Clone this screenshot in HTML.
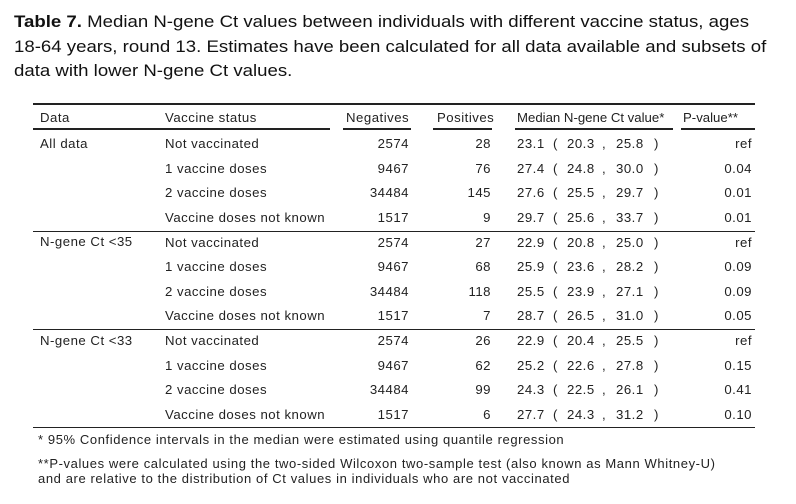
<!DOCTYPE html>
<html><head><style>
body{margin:0;width:796px;height:504px;background:#fff;position:relative;font-family:"Liberation Sans",Arial,sans-serif;color:#111;overflow:hidden}
.t{position:absolute;left:14px;top:10px;font-size:17px;line-height:24.5px;white-space:nowrap;transform:scaleX(1.095);transform-origin:0 0}
.c{position:absolute;font-size:13.2px;letter-spacing:0.5px;white-space:nowrap;color:#222}
.r{text-align:right}
.l{position:absolute;background:#222;height:1px}
.f{position:absolute;left:38px;font-size:13px;letter-spacing:0.6px;line-height:15px;color:#222;white-space:nowrap}
</style></head><body>
<div class="t"><b>Table 7.</b> Median N-gene Ct values between individuals with different vaccine status, ages<br>18-64 years, round 13. Estimates have been calculated for all data available and subsets of<br>data with lower N-gene Ct values.</div>
<div class="l" style="left:33px;width:722px;top:103px;height:2px"></div>
<div class="l" style="left:33px;width:297px;top:128px;height:2px"></div>
<div class="l" style="left:343px;width:68px;top:128px;height:2px"></div>
<div class="l" style="left:433px;width:59px;top:128px;height:2px"></div>
<div class="l" style="left:515px;width:158px;top:128px;height:2px"></div>
<div class="l" style="left:681px;width:74px;top:128px;height:2px"></div>
<div class="l" style="left:33px;width:722px;top:231px"></div>
<div class="l" style="left:33px;width:722px;top:329px"></div>
<div class="l" style="left:33px;width:722px;top:427px"></div>
<div id="rows"></div>
<div class="f" style="top:432px">* 95% Confidence intervals in the median were estimated using quantile regression</div>
<div class="f" style="top:456px">**P-values were calculated using the two-sided Wilcoxon two-sample test (also known as Mann Whitney-U)<br>and are relative to the distribution of Ct values in individuals who are not vaccinated</div>
<div class="c" style="left:40px;top:110px">Data</div>
<div class="c" style="left:165px;top:110px">Vaccine status</div>
<div class="c" style="left:346px;top:110px">Negatives</div>
<div class="c" style="left:437px;top:110px">Positives</div>
<div class="c" style="left:517px;top:110px;letter-spacing:0">Median N-gene Ct value*</div>
<div class="c" style="left:683px;top:110px;letter-spacing:0">P-value**</div>
<div class="c" style="left:40px;top:136px">All data</div>
<div class="c" style="left:40px;top:234px">N-gene Ct &lt;35</div>
<div class="c" style="left:40px;top:333px">N-gene Ct &lt;33</div>
<script>
var st=["Not vaccinated","1 vaccine doses","2 vaccine doses","Vaccine doses not known"];
var neg=["2574","9467","34484","1517"];
var pos=[28,76,145,9,27,68,118,7,26,62,99,6];
var med=[["23.1","20.3","25.8"],["27.4","24.8","30.0"],["27.6","25.5","29.7"],["29.7","25.6","33.7"],["22.9","20.8","25.0"],["25.9","23.6","28.2"],["25.5","23.9","27.1"],["28.7","26.5","31.0"],["22.9","20.4","25.5"],["25.2","22.6","27.8"],["24.3","22.5","26.1"],["27.7","24.3","31.2"]];
var pv=["ref","0.04","0.01","0.01","ref","0.09","0.09","0.05","ref","0.15","0.41","0.10"];
var h="";
for(var i=0;i<12;i++){var y=136+Math.floor(i/4)*98.5+(i%4)*24.6;
var s='px;top:'+y+'px">';
h+='<div class="c" style="left:165'+s+st[i%4]+'</div>';
h+='<div class="c r" style="left:330px;width:79'+s+neg[i%4]+'</div>';
h+='<div class="c r" style="left:430px;width:61'+s+pos[i]+'</div>';
h+='<div class="c" style="left:517'+s+med[i][0]+'</div>';
h+='<div class="c" style="left:553'+s+'(</div>';
h+='<div class="c" style="left:567'+s+med[i][1]+'</div>';
h+='<div class="c" style="left:602'+s+',</div>';
h+='<div class="c" style="left:616'+s+med[i][2]+'</div>';
h+='<div class="c" style="left:654'+s+')</div>';
h+='<div class="c r" style="left:690px;width:62'+s+pv[i]+'</div>';}
document.getElementById("rows").innerHTML=h;
</script>
</body></html>
